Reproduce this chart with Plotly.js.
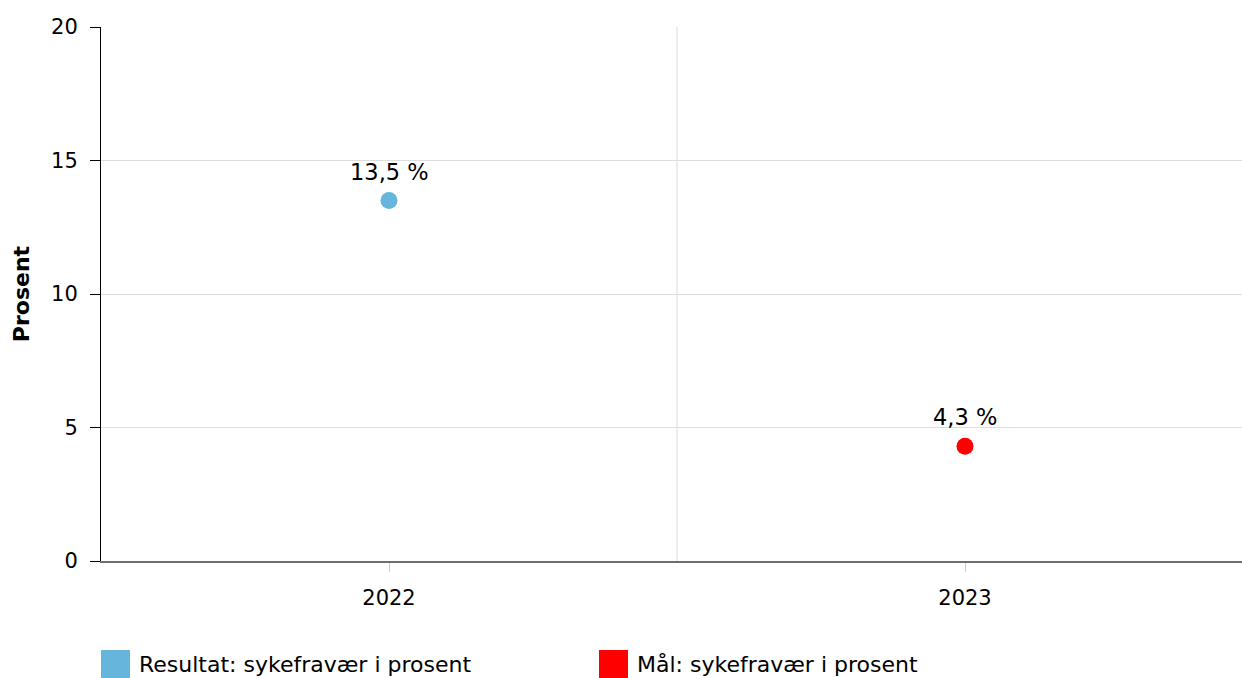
<!DOCTYPE html>
<html>
<head>
<meta charset="utf-8">
<script src="https://cdn.plot.ly/plotly-3.0.1.min.js"></script>
<style>html,body{margin:0;padding:0;background:#fff;}#chart{width:1242px;height:678px;}</style>
</head>
<body>
<div id="chart"></div>
<script>
var categories = ['2022', '2023'];
var seriesNames = ['Resultat: sykefravær i prosent', 'Mål: sykefravær i prosent'];
var resultatValues = [13.5, null];
var maalValues = [null, 4.3];
var seriesColors = ['#66b5dc', '#ff0000'];
var yTickVals = [0, 5, 10, 15, 20];
var yTitle = 'Prosent';

var FONT = 'Verdana, "DejaVu Sans", sans-serif';
var xIdx = categories.map(function (c, i) { return i; });

function fmt(v) { return v.toFixed(1).replace('.', ',') + ' %'; }

function mkTrace(vals, i) {
  return {
    type: 'scatter', mode: 'markers',
    x: xIdx, y: vals, name: seriesNames[i],
    marker: { color: seriesColors[i], size: 17 },
    cliponaxis: false, showlegend: false, hoverinfo: 'skip'
  };
}

var traces = [mkTrace(resultatValues, 0), mkTrace(maalValues, 1)];

var shapes = [{
  type: 'line', xref: 'x', yref: 'paper', x0: 0.5, x1: 0.5, y0: 0, y1: 1,
  line: { color: '#dddddd', width: 1 }, layer: 'below'
}];
var annotations = [];
[resultatValues, maalValues].forEach(function (vals) {
  vals.forEach(function (v, j) {
    if (v === null) return;
    annotations.push({
      xref: 'x', yref: 'y', x: xIdx[j], y: v, text: fmt(v), showarrow: false,
      xanchor: 'center', yanchor: 'middle', yshift: 29,
      font: { family: FONT, size: 22.5, color: '#000' }
    });
  });
});
var legX = [0, 498];
seriesNames.forEach(function (n, i) {
  var px0 = 101 + legX[i];
  shapes.push({
    type: 'rect', xref: 'paper', yref: 'paper',
    x0: (px0 - 101) / 1141, x1: (px0 + 29 - 101) / 1141,
    y0: (561 - 678) / 534, y1: (561 - 650) / 534,
    fillcolor: seriesColors[i], line: { width: 0 }
  });
  annotations.push({
    xref: 'paper', yref: 'paper', x: (px0 + 36 - 101) / 1141, y: (561 - 664) / 534,
    xanchor: 'left', yanchor: 'middle', showarrow: false, text: n,
    font: { family: FONT, size: 22, color: '#000' }
  });
});

var layout = {
  width: 1242, height: 678,
  margin: { l: 101, r: 0, t: 27, b: 117 },
  paper_bgcolor: '#fff', plot_bgcolor: '#fff',
  font: { family: FONT, size: 21, color: '#000' },
  showlegend: false,
  xaxis: {
    range: [-0.5, -0.5 + 1141 / 576], tickvals: xIdx, ticktext: categories,
    showgrid: false, zeroline: false, showline: true, linecolor: '#6e6e6e', linewidth: 2,
    ticks: 'outside', ticklen: 9, tickcolor: '#cccccc', tickwidth: 1,
    ticklabelstandoff: 8, tickfont: { family: FONT, size: 21 }, fixedrange: true
  },
  yaxis: {
    range: [0, 20], tickvals: yTickVals, showgrid: true, gridcolor: '#dddddd',
    zeroline: false, showline: true, linecolor: '#000', linewidth: 1,
    ticks: 'outside', ticklen: 10, tickcolor: '#000', ticklabelstandoff: 8,
    tickfont: { family: FONT, size: 21 },
    title: { text: '<b>' + yTitle + '</b>', standoff: 15, font: { family: FONT, size: 22 } },
    fixedrange: true
  },
  shapes: shapes, annotations: annotations
};

Plotly.newPlot('chart', traces, layout, { displayModeBar: false, staticPlot: true });
</script>
</body>
</html>
